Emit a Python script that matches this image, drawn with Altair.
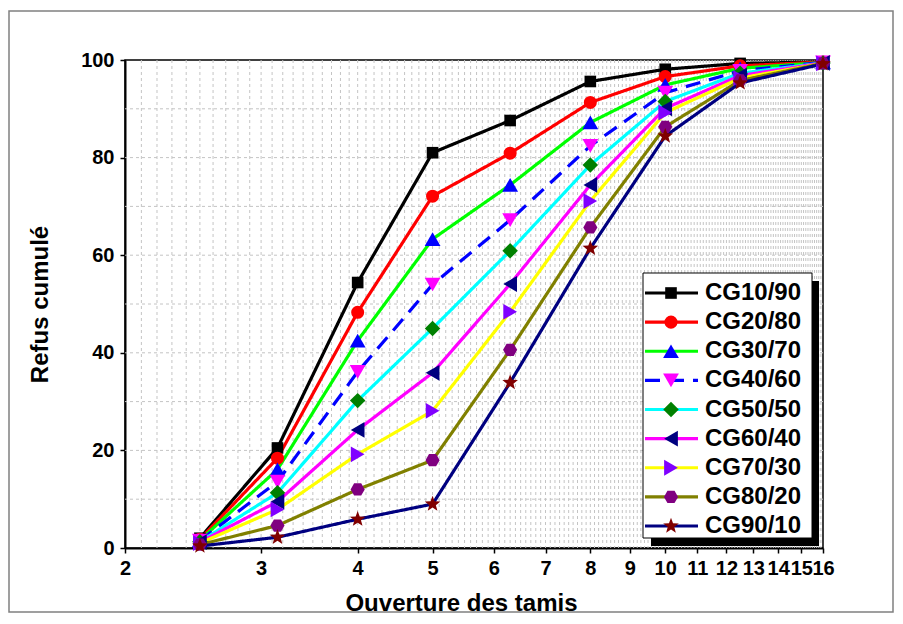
import altair as alt
import pandas as pd
import numpy as np

# ---- data ----
sizes = [2.5, 3.15, 4, 5, 6.3, 8, 10, 12.5, 16]
series = ["CG10/90", "CG20/80", "CG30/70", "CG40/60", "CG50/50",
          "CG60/40", "CG70/30", "CG80/20", "CG90/10"]
cg10_90 = [2.0, 20.5, 54.4, 81.0, 87.6, 95.6, 98.1, 99.3, 99.6]
cg20_80 = [1.8, 18.4, 48.3, 72.1, 80.9, 91.3, 96.6, 98.8, 99.6]
cg30_70 = [1.6, 16.1, 42.5, 63.3, 74.4, 87.2, 94.9, 98.3, 99.5]
cg40_60 = [1.5, 13.6, 36.1, 54.0, 67.2, 82.4, 93.3, 97.8, 99.5]
cg50_50 = [1.3, 11.3, 30.2, 45.0, 60.9, 78.5, 91.5, 97.3, 99.4]
cg60_40 = [1.2, 9.5, 24.2, 35.9, 54.1, 74.4, 90.1, 96.8, 99.4]
cg70_30 = [1.0, 7.9, 19.2, 28.1, 48.4, 71.1, 89.2, 96.3, 99.3]
cg80_20 = [0.7, 4.6, 12.0, 18.0, 40.6, 65.7, 86.3, 95.8, 99.3]
cg90_10 = [0.4, 2.2, 5.9, 9.0, 33.9, 61.4, 84.4, 95.3, 99.2]
all_values = [cg10_90, cg20_80, cg30_70, cg40_60, cg50_50,
              cg60_40, cg70_30, cg80_20, cg90_10]

x_tick_labels = list(range(2, 17))
y_tick_labels = [0, 20, 40, 60, 80, 100]

# ---- styles ----
line_colors = ["#000000", "#FF0000", "#00FF00", "#0000FF", "#00FFFF",
               "#FF00FF", "#FFFF00", "#808000", "#000080"]
marker_colors = ["#000000", "#FF0000", "#0000FF", "#FF00FF", "#008000",
                 "#000080", "#8000FF", "#800080", "#800000"]
hexagon = "M-1,0L-0.5,-0.866L0.5,-0.866L1,0L0.5,0.866L-0.5,0.866Z"
star = ("M0,-1L0.247,-0.34L0.951,-0.309L0.4,0.13L0.588,0.809L0,0.42"
        "L-0.588,0.809L-0.4,0.13L-0.951,-0.309L-0.247,-0.34Z")
shapes = ["square", "circle", "triangle-up", "triangle-down", "diamond",
          "triangle-left", "triangle-right", hexagon, star]
marker_sizes = [135, 170, 250, 250, 240, 250, 250, 200, 270]
dashes = [[1, 0], [1, 0], [1, 0], [15, 9], [1, 0], [1, 0], [1, 0], [1, 0], [1, 0]]

rows = []
for s, vals in zip(series, all_values):
    for xv, yv in zip(sizes, vals):
        rows.append({"series": s, "x": xv, "y": yv})
df = pd.DataFrame(rows)
leg_df = pd.DataFrame({"series": series})

FONT = "Liberation Sans"
W, H = 698, 488

xscale = alt.Scale(type="log", domain=[2, 16], nice=False)
yscale = alt.Scale(domain=[0, 100], nice=False)
x_axis = alt.Axis(values=x_tick_labels, format="d", title="Ouverture des tamis",
                  labelOverlap=False, labelFlush=False, labelBound=False,
                  grid=False, titleX=336, titleY=55, titleBaseline="middle",
                  titleAlign="center", labelPadding=5)
y_axis = alt.Axis(values=y_tick_labels, title="Refus cumulé", grid=False,
                  titleX=-85, titleY=244, titleAngle=270, titleAlign="center",
                  titleBaseline="middle", labelPadding=6)

col = alt.Color("series:N", scale=alt.Scale(domain=series, range=line_colors), legend=None)
fil = alt.Fill("series:N", scale=alt.Scale(domain=series, range=marker_colors), legend=None)
shp = alt.Shape("series:N", scale=alt.Scale(domain=series, range=shapes), legend=None)
siz = alt.Size("series:N", scale=alt.Scale(type="ordinal", domain=series, range=marker_sizes),
               legend=None)
dsh = alt.StrokeDash("series:N", scale=alt.Scale(domain=series, range=dashes), legend=None)

grid_x = pd.DataFrame({"x": [round(v, 1) for v in np.arange(2.1, 15.95, 0.1)]})
grid_y = pd.DataFrame({"y": list(range(10, 100, 10))})

grid_v = alt.Chart(grid_x).mark_rule(color="#c4c4c4", strokeDash=[3, 3], strokeWidth=1).encode(
    x=alt.X("x:Q", scale=xscale, axis=x_axis))
grid_h = alt.Chart(grid_y).mark_rule(color="#c4c4c4", strokeDash=[3, 3], strokeWidth=1).encode(
    y=alt.Y("y:Q", scale=yscale, axis=y_axis))

lines = alt.Chart(df).mark_line(strokeWidth=3.2).encode(
    x=alt.X("x:Q", scale=xscale, axis=x_axis),
    y=alt.Y("y:Q", scale=yscale, axis=y_axis),
    color=col, strokeDash=dsh, detail="series:N",
    order="x:Q")

points = alt.Chart(df).mark_point(filled=True, opacity=1, strokeWidth=0).encode(
    x=alt.X("x:Q", scale=xscale, axis=x_axis),
    y=alt.Y("y:Q", scale=yscale, axis=y_axis),
    fill=fil, shape=shp, size=siz)

main = alt.layer(grid_v, grid_h, lines, points)

one = pd.DataFrame({"k": [0]})
border = alt.Chart(one).mark_rect(fill=None, stroke="#808080", strokeWidth=1.5).encode(
    x=alt.value(-116), x2=alt.value(768), y=alt.value(-49), y2=alt.value(552))
shadow = alt.Chart(one).mark_rect(fill="black").encode(
    x=alt.value(526), x2=alt.value(694), y=alt.value(221), y2=alt.value(486))
box = alt.Chart(one).mark_rect(fill="white", stroke="black", strokeWidth=1).encode(
    x=alt.value(518), x2=alt.value(687), y=alt.value(213), y2=alt.value(478))

ly = alt.Y("series:N", scale=alt.Scale(type="point", domain=series, range=[233, 466], padding=0),
           axis=None)
leg_lines = alt.Chart(leg_df).mark_rule(strokeWidth=3.2).encode(
    x=alt.value(520), x2=alt.value(573), y=ly, color=col, strokeDash=dsh)
leg_pts = alt.Chart(leg_df).mark_point(filled=True, opacity=1, strokeWidth=0).encode(
    x=alt.value(546), y=ly, fill=fil, shape=shp, size=siz)
leg_txt = alt.Chart(leg_df).mark_text(align="left", baseline="middle", fontSize=24,
                                      fontWeight="bold", font=FONT, color="black").encode(
    x=alt.value(580), y=ly, text="series:N")
legend = alt.layer(shadow, box, leg_lines, leg_pts, leg_txt)

chart = alt.layer(border, main, legend).resolve_scale(y="independent").properties(
    width=W, height=H,
    autosize=alt.AutoSizeParams(type="none"),
    padding={"left": 117, "top": 52, "right": 72, "bottom": 68},
).configure_view(stroke="black", strokeWidth=1.5).configure_axis(
    labelFont=FONT, titleFont=FONT, labelFontWeight="bold", titleFontWeight="bold",
    labelFontSize=20, titleFontSize=24, labelColor="black", titleColor="black",
    domainColor="black", domainWidth=2, tickColor="black", tickWidth=1.5, tickSize=5)

chart.save("out.html", embed_options={"renderer": "svg", "actions": False})
